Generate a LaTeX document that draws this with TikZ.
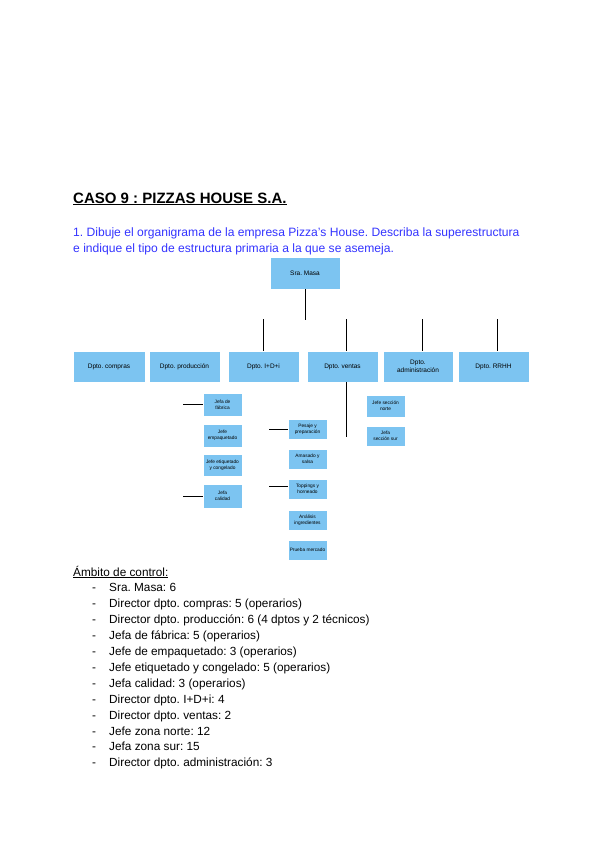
\documentclass[tikz,border=0pt]{standalone}
\usepackage{fontspec}
\setmainfont{Liberation Sans}
\usetikzlibrary{positioning}
\definecolor{cajaazul}{HTML}{7CC4F1}
\definecolor{azultexto}{HTML}{3333FF}
\frenchspacing

\begin{document}
\begin{tikzpicture}[x=1pt, y=-1pt,
    caja/.style={draw=white, fill=cajaazul, inner sep=1pt, align=center, font=\fontsize{6.5}{7.5}\selectfont},
    dpto/.style={caja, minimum width=71pt, minimum height=31pt},
    sub/.style={caja, minimum width=39pt, minimum height=21pt, font=\fontsize{4.8}{5.6}\selectfont},
    linea/.style={line width=1pt},
    texto/.style={anchor=base west, inner sep=0pt}]
  \useasboundingbox (0,0) rectangle (600,848);

  % cabecera
  \node[texto, font=\fontsize{15}{18}\bfseries\selectfont] (titulo) at (73,203) {\underline{CASO 9 : PIZZAS HOUSE S.A.}};
  \node[texto, text=azultexto, font=\fontsize{12.1}{16}\selectfont] (preg1) at (73,236) {1. Dibuje el organigrama de la empresa Pizza's House. Describa la superestructura};
  \node[texto, text=azultexto, font=\fontsize{12.1}{16}\selectfont] (preg2) at (73,252) {e indique el tipo de estructura primaria a la que se asemeja.};

  % organigrama
  \node[caja, minimum width=70pt, minimum height=32pt] (masa) at (305,273) {Sra. Masa};
  \draw[linea] (masa.south) -- ++(0,31);

  \node[dpto, minimum width=72pt] (compras) at (109,366.5) {Dpto. compras};
  \node[dpto] (produccion) at (184.5,366.5) {Dpto. producción};
  \node[dpto] (idi) at (263.5,366.5) {Dpto. I+D+i};
  \node[dpto] (ventas) at (342.5,366.5) {Dpto. ventas};
  \node[dpto, minimum width=70pt] (admin) at (418,366.5) {Dpto.\\administración};
  \node[dpto] (rrhh) at (493.5,366.5) {Dpto. RRHH};
  \draw[linea] (idi.north) -- ++(0,-32);
  \draw[linea] (ventas.north) ++(3.5,0) -- ++(0,-32);
  \draw[linea] (admin.north) ++(4,0) -- ++(0,-32);
  \draw[linea] (rrhh.north) ++(3.5,0) -- ++(0,-32);
  \draw[linea] (ventas.south) ++(3.5,0) -- ++(0,55);

  % produccion
  \node[sub, minimum height=23pt] (fabrica) at (222.5,404.5) {Jefa de\\fábrica};
  \node[sub, minimum height=23pt] (empaquetado) at (222.5,435.5) {Jefe\\empaquetado};
  \node[sub, minimum height=22pt] (etiquetado) at (222.5,465.5) {Jefe etiquetado\\y congelado};
  \node[sub, minimum height=24pt] (calidad) at (222.5,496) {Jefa\\calidad};
  \draw[linea] (fabrica.west) -- ++(-20,0);
  \draw[linea] (calidad.west) -- ++(-20,0);

  % I+D+i
  \node[sub, minimum height=20pt] (pesaje) at (307.5,429.5) {Pesaje y\\preparación};
  \node[sub, minimum height=20pt] (amasado) at (307.5,459) {Amasado y\\salsa};
  \node[sub, minimum height=20pt] (horneado) at (307.5,489) {Toppings y\\horneado};
  \node[sub, minimum height=20pt] (ingredientes) at (307.5,520) {Análisis\\ingredientes};
  \node[sub, minimum height=20pt] (mercado) at (307.5,550) {Prueba mercado};
  \draw[linea] (pesaje.west) -- ++(-19,0);
  \draw[linea] (horneado.west) ++(0,-3) -- ++(-19,0);

  % ventas
  \node[sub, minimum height=22pt] (norte) at (385.5,406) {Jefe sección\\norte};
  \node[sub, minimum height=20pt] (sur) at (385.5,436) {Jefa\\sección sur};

  % ambito de control
  \node[texto, font=\fontsize{11.8}{14}\selectfont] (ambito) at (73,576) {\underline{Ámbito de control:}};
  \foreach \item [count=\i] in {{Sra. Masa: 6},
      {Director dpto. compras: 5 (operarios)},
      {Director dpto. producción: 6 (4 dptos y 2 técnicos)},
      {Jefa de fábrica: 5 (operarios)},
      {Jefe de empaquetado: 3 (operarios)},
      {Jefe etiquetado y congelado: 5 (operarios)},
      {Jefa calidad: 3 (operarios)},
      {Director dpto. I+D+i: 4},
      {Director dpto. ventas: 2},
      {Jefe zona norte: 12},
      {Jefa zona sur: 15},
      {Director dpto. administración: 3}}{
    \node[texto, font=\fontsize{11.8}{14}\selectfont] (guion\i) at (92,576+15.9*\i) {-};
    \node[texto, font=\fontsize{11.8}{14}\selectfont] (item\i) at (109,576+15.9*\i) {\item};
  }
\end{tikzpicture}
\end{document}
